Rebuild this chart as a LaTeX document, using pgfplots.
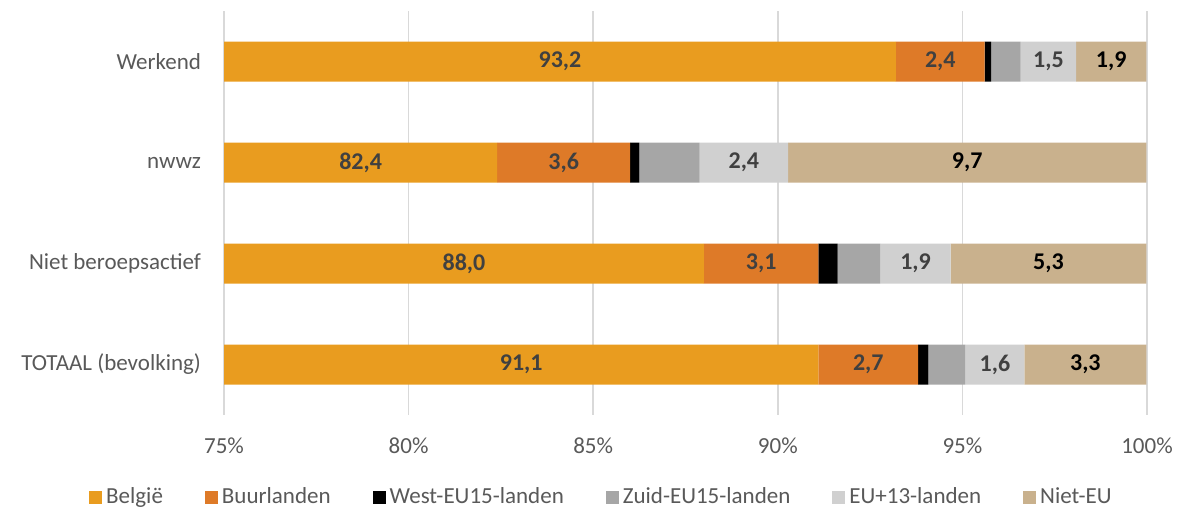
\documentclass[border=0pt]{standalone}
\usepackage{pgfplots}
\pgfplotsset{compat=1.18}
\usepackage{pgfplotstable}
\usepackage{fontspec}
\setmainfont{Carlito}
\definecolor{cBel}{HTML}{E99C1F}
\definecolor{cBuur}{HTML}{DE7A28}
\definecolor{cWest}{HTML}{000000}
\definecolor{cZuid}{HTML}{A6A6A6}
\definecolor{cEU}{HTML}{D0D0D0}
\definecolor{cNiet}{HTML}{C9B18D}
\definecolor{cGrid}{HTML}{D9D9D9}
\definecolor{cTick}{HTML}{595959}
\definecolor{cLab}{HTML}{404040}

\pgfplotstableread{
y bel buur west zuid eu nieteu
0 93.2 2.4 0.18 0.8 1.5 1.9
1 82.4 3.6 0.25 1.63 2.4 9.7
2 88.0 3.1 0.52 1.16 1.9 5.3
3 91.1 2.7 0.28 1.0 1.6 3.3
}\data

\pgfplotsset{
  seglabel/.style={
    nodes near coords={\pgfmathprintnumber[fixed,fixed zerofill,precision=1,use comma]{\pgfplotspointmeta}},
    every node near coord/.append style={
      anchor=center, inner sep=0pt,
      font=\fontsize{12}{14}\selectfont\bfseries, text=#1,
    },
  },
}

\begin{document}
\begin{tikzpicture}
\useasboundingbox (0,0) rectangle (590.5pt,255.5pt);
\begin{axis}[
  at={(112pt,48pt)}, anchor=south west,
  scale only axis, width=461.5pt, height=202pt,
  xbar stacked, bar width=20pt,
  xmin=75, xmax=100, ymin=-0.5, ymax=3.5, y dir=reverse,
  xtick={75,80,...,100},
  xticklabel={\pgfmathprintnumber{\tick}\%},
  ytick={0,1,2,3},
  yticklabels={Werkend,nwwz,Niet beroepsactief,TOTAAL (bevolking)},
  axis line style={draw=none},
  major tick length=0pt,
  xmajorgrids, grid style={cGrid, line width=0.75pt},
  ticklabel style={font=\fontsize{11.5}{13}\selectfont, text=cTick},
  xticklabel style={yshift=-7.7pt},
  yticklabel style={xshift=-8pt},
  /pgf/number format/assume math mode=true,
  legend columns=6,
  legend style={at={(0.41,-0.203)}, anchor=center, draw=none,
    font=\fontsize{11.5}{13}\selectfont, text=cTick,
    /tikz/every even column/.append style={column sep=19pt}},
  legend image code/.code={\fill[#1] (0pt,-3.25pt) rectangle (6.5pt,3.25pt);},
]
\addplot[fill=cBel, draw=none, seglabel=cLab,
  every node near coord/.append style={shift={(axis direction cs:37.5,0)}}] table[x=bel, y=y] {\data};
\addplot[fill=cBuur, draw=none, seglabel=cLab] table[x=buur, y=y] {\data};
\addplot[fill=cWest, draw=none] table[x=west, y=y] {\data};
\addplot[fill=cZuid, draw=none] table[x=zuid, y=y] {\data};
\addplot[fill=cEU, draw=none, seglabel=cLab] table[x=eu, y=y] {\data};
\addplot[fill=cNiet, draw=none, seglabel=black] table[x=nieteu, y=y] {\data};
\legend{België,Buurlanden,West-EU15-landen,Zuid-EU15-landen,EU+13-landen,Niet-EU}
\end{axis}
\end{tikzpicture}
\end{document}
